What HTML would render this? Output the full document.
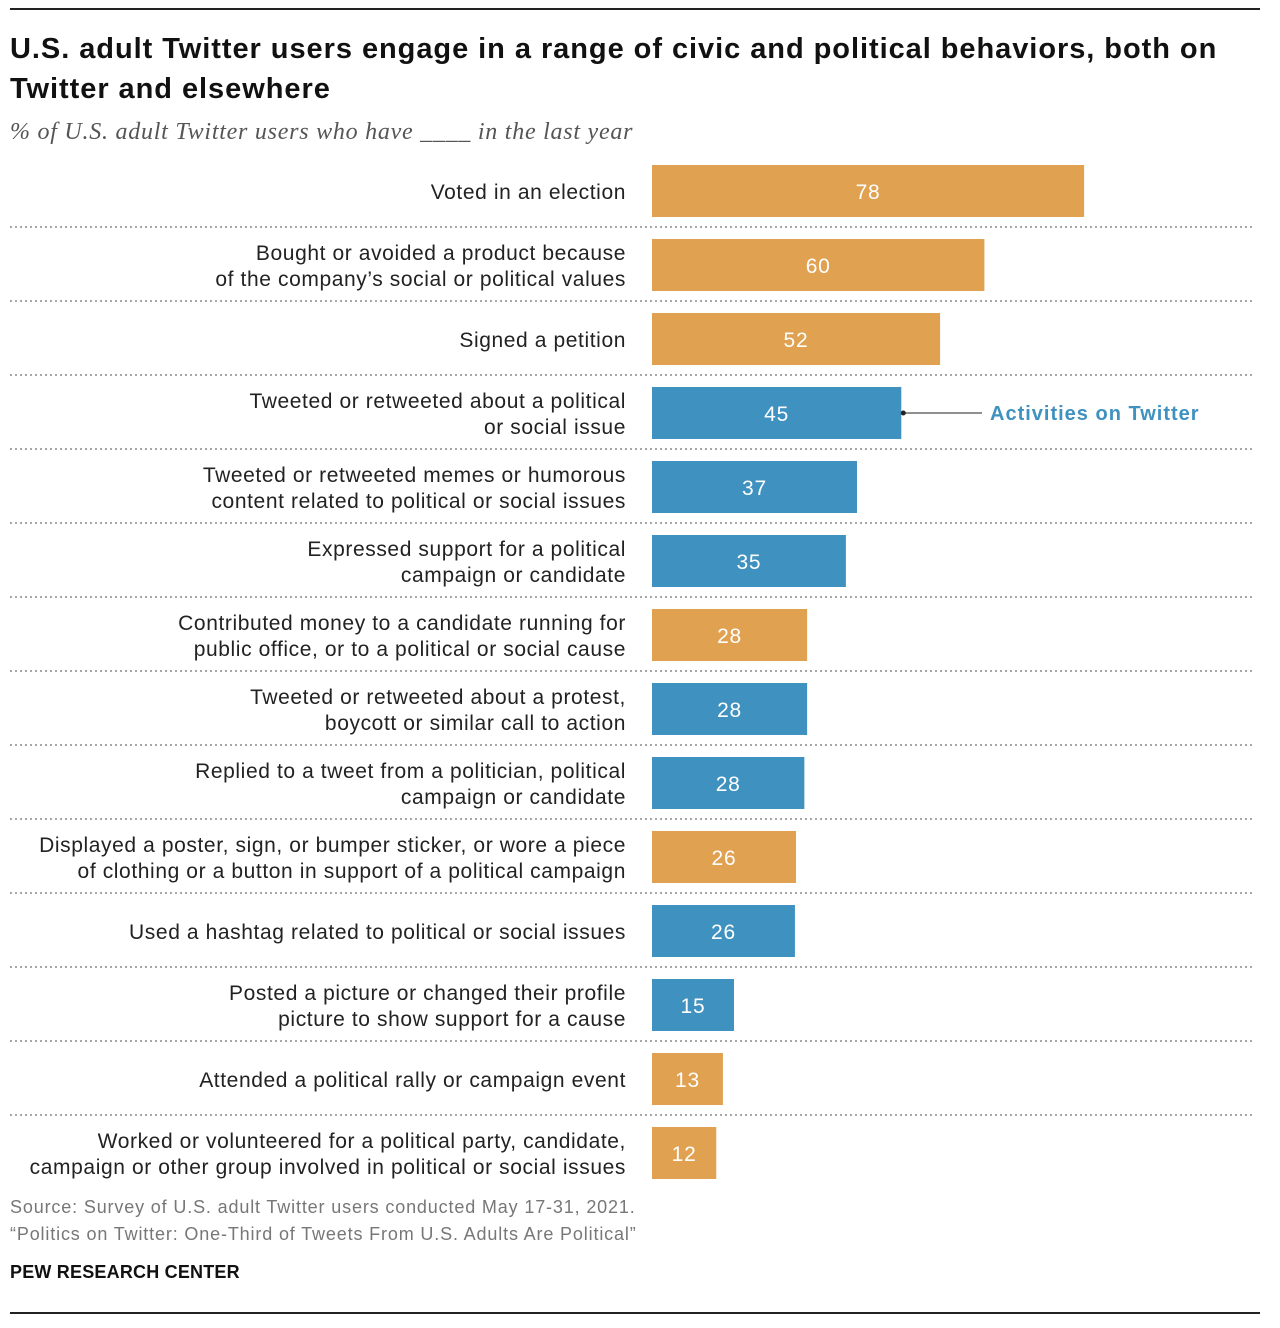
<!DOCTYPE html>
<html><head><meta charset="utf-8">
<style>
body{margin:0;background:#fff;width:1280px;height:1328px;position:relative;font-family:"Liberation Sans",sans-serif;overflow:hidden}
.rule{position:absolute;left:10px;width:1250px;height:2px;background:#222}
#title{position:absolute;left:10px;top:29px;width:1235px;font-size:29px;font-weight:bold;line-height:40px;color:#111;letter-spacing:0.95px}
#sub{position:absolute;left:10px;top:119px;font-family:"Liberation Serif",serif;font-style:italic;font-size:24px;color:#555;letter-spacing:0.75px}
.foot{position:absolute;left:10px;font-size:18px;color:#777;letter-spacing:0.85px}
</style></head><body>
<div class="rule" style="top:8px"></div>
<div id="title">U.S. adult Twitter users engage in a range of civic and political behaviors, both on Twitter and elsewhere</div>
<div id="sub">% of U.S. adult Twitter users who have ____ in the last year</div>
<svg id="chart" width="1280" height="1200" style="position:absolute;left:0;top:0"></svg>
<div class="foot" style="top:1197px">Source: Survey of U.S. adult Twitter users conducted May 17-31, 2021.</div>
<div class="foot" style="top:1224px">“Politics on Twitter: One-Third of Tweets From U.S. Adults Are Political”</div>
<div class="foot" style="top:1262px;color:#111;font-weight:bold;letter-spacing:0.2px">PEW RESEARCH CENTER</div>
<div class="rule" style="top:1312px"></div>
<script>
const categories=[
["Voted in an election"],
["Bought or avoided a product because","of the company’s social or political values"],
["Signed a petition"],
["Tweeted or retweeted about a political","or social issue"],
["Tweeted or retweeted memes or humorous","content related to political or social issues"],
["Expressed support for a political","campaign or candidate"],
["Contributed money to a candidate running for","public office, or to a political or social cause"],
["Tweeted or retweeted about a protest,","boycott or similar call to action"],
["Replied to a tweet from a politician, political","campaign or candidate"],
["Displayed a poster, sign, or bumper sticker, or wore a piece","of clothing or a button in support of a political campaign"],
["Used a hashtag related to political or social issues"],
["Posted a picture or changed their profile","picture to show support for a cause"],
["Attended a political rally or campaign event"],
["Worked or volunteered for a political party, candidate,","campaign or other group involved in political or social issues"]];
const values=[78,60,52,45,37,35,28,28,27.5,26,25.8,14.8,12.8,11.6];
const labels=["78","60","52","45","37","35","28","28","28","26","26","15","13","12"];
const onTwitter=[0,0,0,1,1,1,0,1,1,0,1,1,0,0];
const NS="http://www.w3.org/2000/svg";
const svg=document.getElementById('chart');
const x0=652,scale=5.54,top0=165,pitch=74,bh=52;
const xw=v=>v*scale, yr=i=>top0+i*pitch;
function mk(t,a){const e=document.createElementNS(NS,t);for(const k in a)e.setAttribute(k,a[k]);svg.appendChild(e);return e;}
categories.forEach((c,i)=>{
 const y=yr(i);
 if(i>0){const l=mk('line',{x1:10,x2:1255,y1:y-12,y2:y-12,stroke:'#888','stroke-width':1.5,'stroke-dasharray':'2,3'});
 
 }
 const r=mk('rect',{x:x0,y:y,width:xw(values[i]),height:bh,fill:onTwitter[i]?'#3F91C0':'#E0A150'});
 
 
 const v=mk('text',{x:x0+xw(values[i])/2,y:y+bh/2+8,'text-anchor':'middle','font-size':21,'letter-spacing':0.8,fill:'#fff'});
 v.textContent=labels[i];
 
 
 const n=c.length;
 c.forEach((s,j)=>{
  const t=mk('text',{x:626,y:y+bh/2+8+(j-(n-1)/2)*26,'text-anchor':'end','font-size':21,'letter-spacing':0.6,fill:'#222'});
  t.textContent=s;
  
  
 });
});
const ay=yr(3)+bh/2, ax=x0+xw(values[3]);
const al=mk('line',{x1:ax+2,x2:982,y1:ay,y2:ay,stroke:'#222','stroke-width':1});


const ad=mk('circle',{cx:ax+2,cy:ay,r:2.5,fill:'#222'});


const at=mk('text',{x:990,y:ay+7,'font-size':20,'font-weight':'bold','letter-spacing':1,fill:'#3F91C0'});
at.textContent='Activities on Twitter';


</script>
</body></html>
